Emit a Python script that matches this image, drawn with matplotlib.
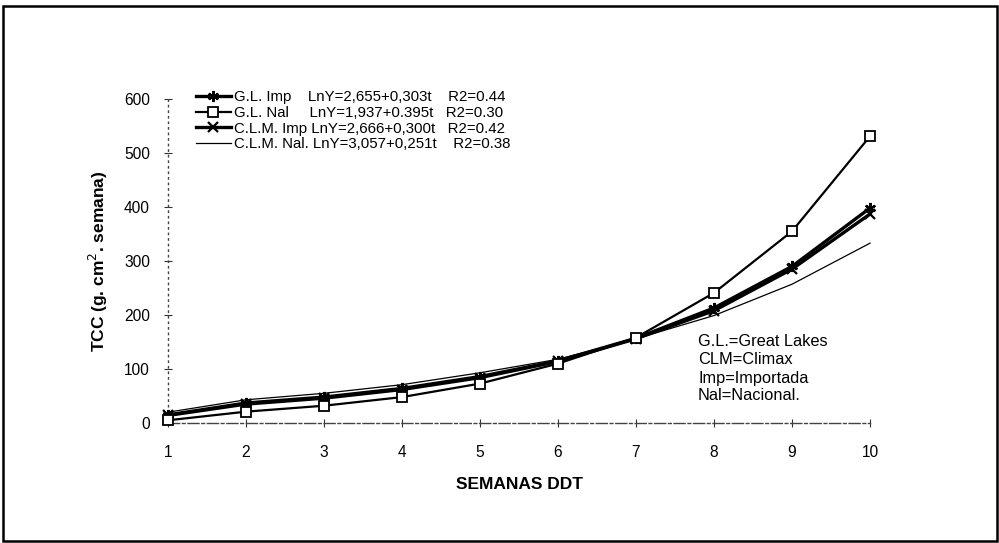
import matplotlib
matplotlib.use("Agg")
import matplotlib.pyplot as plt
from matplotlib.patches import Rectangle

plt.rcParams['font.family'] = ['Liberation Sans', 'DejaVu Sans']

semanas = [1, 2, 3, 4, 5, 6, 7, 8, 9, 10]
gl_imp = [15, 37, 48, 64, 86, 115, 157, 213, 290, 398]
gl_nal = [5, 21, 32, 48, 73, 110, 158, 241, 355, 531]
clm_imp = [14, 35, 46, 62, 84, 114, 156, 208, 285, 387]
clm_nal = [20, 43, 55, 71, 93, 118, 156, 199, 257, 333]

labels = [
    "G.L. Imp    LnY=2,655+0,303t    R2=0.44",
    "G.L. Nal     LnY=1,937+0.395t   R2=0.30",
    "C.L.M. Imp LnY=2,666+0,300t   R2=0.42",
    "C.L.M. Nal. LnY=3,057+0,251t    R2=0.38",
]
yticks = [0, 100, 200, 300, 400, 500, 600]
xticks = semanas
notes = ["G.L.=Great Lakes", "CLM=Climax", "Imp=Importada", "Nal=Nacional."]

W, H = 999, 543
fig = plt.figure(figsize=(W / 100, H / 100), dpi=100)
ax = fig.add_axes([168 / W, 120 / H, 702 / W, 324 / H])

ax.plot(semanas, gl_imp, color='black', lw=2.4, marker=(6, 2, 0), ms=8,
        mew=1.6, label=labels[0], clip_on=False, zorder=4)
ax.plot(semanas, gl_nal, color='black', lw=1.6, marker='s', ms=6.5,
        mfc='white', mec='black', mew=1.3, label=labels[1], clip_on=False, zorder=5)
ax.plot(semanas, clm_imp, color='black', lw=2.4, marker='x', ms=7,
        mew=1.6, label=labels[2], clip_on=False, zorder=4)
ax.plot(semanas, clm_nal, color='black', lw=0.9, label=labels[3],
        clip_on=False, zorder=3)

ax.set_xlim(1, 10)
ax.set_ylim(0, 600)
ax.set_xticks(xticks)
ax.set_yticks(yticks)
ax.tick_params(axis='both', direction='inout', length=6, width=0.8,
               colors='#333333', labelcolor='black', labelsize=11.2)
ax.tick_params(axis='x', pad=13)
ax.tick_params(axis='y', pad=10)

for s in ['top', 'right']:
    ax.spines[s].set_visible(False)
ax.spines['left'].set_linestyle((0, (1, 3)))
ax.spines['left'].set_color('#444444')
ax.spines['left'].set_linewidth(1.0)
ax.spines['bottom'].set_linestyle((0, (8, 2, 2, 2)))
ax.spines['bottom'].set_color('#444444')
ax.spines['bottom'].set_linewidth(1.0)

ax.set_xlabel("SEMANAS DDT", fontweight='bold', fontsize=12.5, labelpad=12)
ax.set_ylabel(r"TCC (g. cm$^{2}$. semana)", fontweight='bold', fontsize=12.5,
              labelpad=10)

leg = fig.legend(loc='upper left', bbox_to_anchor=(196 / W, 1 - 90 / H),
                 frameon=False, fontsize=10.8, handlelength=2.3,
                 handletextpad=0.2, labelspacing=0.12, borderpad=0,
                 borderaxespad=0)

for i, t in enumerate(notes):
    fig.text(698 / W, 1 - (342 + 18 * i) / H, t, fontsize=11.8, va='center',
             ha='left')

fig.patches.append(Rectangle((3 / W, 2 / H), 994 / W, 535 / H,
                             transform=fig.transFigure, fill=False,
                             edgecolor='black', lw=1.8))

fig.savefig("out.png", dpi=100)
